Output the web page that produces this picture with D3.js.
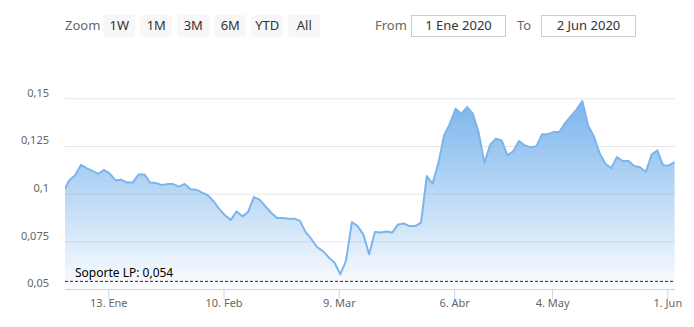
<!DOCTYPE html>
<html><head><meta charset="utf-8">
<script src="https://cdn.jsdelivr.net/npm/d3@7"></script>
<style>
body{margin:0;background:#fff;}
svg{display:block;font-family:"Noto Sans",sans-serif;}
</style>
</head><body>
<svg id="chart" width="694" height="327"></svg>
<script>
// ---- data ----
const dates = [
"2019-12-31",
"2020-01-02","2020-01-03","2020-01-06","2020-01-07","2020-01-08","2020-01-09","2020-01-10","2020-01-13","2020-01-14","2020-01-15","2020-01-16","2020-01-17","2020-01-20","2020-01-21","2020-01-22","2020-01-23","2020-01-24","2020-01-27","2020-01-28","2020-01-29","2020-01-30","2020-01-31",
"2020-02-03","2020-02-04","2020-02-05","2020-02-06","2020-02-07","2020-02-10","2020-02-11","2020-02-12","2020-02-13","2020-02-14","2020-02-17","2020-02-18","2020-02-19","2020-02-20","2020-02-21","2020-02-24","2020-02-25","2020-02-26","2020-02-27","2020-02-28",
"2020-03-02","2020-03-03","2020-03-04","2020-03-05","2020-03-06","2020-03-09","2020-03-10","2020-03-11","2020-03-12","2020-03-13","2020-03-16","2020-03-17","2020-03-18","2020-03-19","2020-03-20","2020-03-23","2020-03-24","2020-03-25","2020-03-26","2020-03-27","2020-03-30","2020-03-31",
"2020-04-01","2020-04-02","2020-04-03","2020-04-06","2020-04-07","2020-04-08","2020-04-09","2020-04-14","2020-04-15","2020-04-16","2020-04-17","2020-04-20","2020-04-21","2020-04-22","2020-04-23","2020-04-24","2020-04-27","2020-04-28","2020-04-29","2020-04-30",
"2020-05-04","2020-05-05","2020-05-06","2020-05-07","2020-05-08","2020-05-11","2020-05-12","2020-05-13","2020-05-14","2020-05-15","2020-05-18","2020-05-19","2020-05-20","2020-05-21","2020-05-22","2020-05-25","2020-05-26","2020-05-27","2020-05-28","2020-05-29",
"2020-06-01","2020-06-02"
];
const values = [
0.1014,
0.1072,0.1096,0.1151,0.1133,0.1119,0.1104,0.1125,0.1105,0.1070,0.1073,0.1058,0.1059,0.1101,0.1101,0.1058,0.1056,0.1045,0.1050,0.1050,0.1037,0.1051,0.1023,
0.1021,0.1005,0.0992,0.0960,0.0919,0.0886,0.0862,0.0907,0.0881,0.0904,0.0982,0.0969,0.0933,0.0900,0.0872,0.0872,0.0869,0.0869,0.0857,0.0797,
0.0761,0.0719,0.0699,0.0665,0.0638,0.0577,0.0650,0.0851,0.0830,0.0785,0.0682,0.0799,0.0796,0.0802,0.0796,0.0838,0.0844,0.0830,0.0830,0.0848,0.1092,0.1052,
0.1159,0.1305,0.1367,0.1445,0.1419,0.1454,0.1419,0.1321,0.1162,0.1257,0.1288,0.1279,0.1201,0.1222,0.1276,0.1253,0.1244,0.1248,0.1312,0.1312,
0.1323,0.1323,0.1370,0.1407,0.1442,0.1485,0.1358,0.1300,0.1211,0.1157,0.1134,0.1192,0.1171,0.1171,0.1145,0.1138,0.1113,0.1204,0.1227,0.1148,
0.1148,0.1166
];
const xTickDates = ["2020-01-13","2020-02-10","2020-03-09","2020-04-06","2020-05-04","2020-06-01"];
const xTickLabels = ["13. Ene","10. Feb","9. Mar","6. Abr","4. May","1. Jun"];
const yTicks = [0.05,0.075,0.1,0.125,0.15];
const yTickLabels = ["0,05","0,075","0,1","0,125","0,15"];
const supportValue = 0.054;
const supportLabel = "Soporte LP: 0,054";
const zoomButtons = ["1W","1M","3M","6M","YTD","All"];
const rangeFrom = "1 Ene 2020", rangeTo = "2 Jun 2020";

// ---- layout ----
const plotL = 65, plotR = 675, plotB = 289;
const svg = d3.select("#chart");

const x = d3.scaleLinear().domain([-1, dates.length - 2]).range([63.7, 674.6]);
const y = d3.scaleLinear().domain([0.05, 0.15]).range([plotB, 98.3]);

const defs = svg.append("defs");
const grad = defs.append("linearGradient").attr("id","areaGrad")
  .attr("x1",0).attr("y1",0).attr("x2",0).attr("y2",1);
grad.append("stop").attr("offset",0).attr("stop-color","#7cb5ec").attr("stop-opacity",1);
grad.append("stop").attr("offset",1).attr("stop-color","#7cb5ec").attr("stop-opacity",0.03);
defs.append("clipPath").attr("id","plotClip").append("rect")
  .attr("x",plotL).attr("y",0).attr("width",plotR-plotL).attr("height",plotB);

// grid
const yAxis = d3.axisLeft(y).tickValues(yTicks).tickSize(-(plotR-plotL))
  .tickFormat((d,i)=>yTickLabels[i]).tickPadding(16);
const gy = svg.append("g").attr("transform",`translate(${plotL},0)`).call(yAxis);
gy.select(".domain").remove();
gy.selectAll(".tick line").attr("stroke","#e6e6e6");
gy.selectAll(".tick text").attr("fill","#666").style("font-size","11px")
  .attr("font-family","Noto Sans").attr("dy","-0.2em").attr("x",-16);

// area + line
const pts = values.map((v,i)=>({i:i-1, v}));
const area = d3.area().x(d=>x(d.i)).y0(plotB).y1(d=>y(d.v));
const line = d3.line().x(d=>x(d.i)).y(d=>y(d.v));
const gp = svg.append("g").attr("clip-path","url(#plotClip)");
gp.append("path").datum(pts).attr("d",area).attr("fill","url(#areaGrad)");
gp.append("path").datum(pts).attr("d",line).attr("fill","none")
  .attr("stroke","#7cb5ec").attr("stroke-width",2).attr("stroke-linejoin","round");

// x axis
const xTickIdx = xTickDates.map(d=>dates.indexOf(d) - 1 - 0.26);
const xAxis = d3.axisBottom(x).tickValues(xTickIdx).tickSize(10).tickPadding(0)
  .tickFormat((d,i)=>xTickLabels[i]);
const gx = svg.append("g").attr("transform",`translate(0,${plotB})`).call(xAxis);
gx.select(".domain").remove();
gx.selectAll(".tick line").attr("stroke","#ccd6eb");
gx.selectAll(".tick text").attr("fill","#666").style("font-size","11px").attr("font-family","Noto Sans");
svg.append("line").attr("x1",plotL).attr("x2",plotR).attr("y1",plotB+0.5).attr("y2",plotB+0.5)
  .attr("stroke","#ccd6eb");

// support line
svg.append("line").attr("x1",plotL).attr("x2",plotR)
  .attr("y1",y(supportValue)).attr("y2",y(supportValue))
  .attr("stroke","#8b0000").attr("stroke-width",1).attr("stroke-dasharray","3,2");
svg.append("text").attr("x",plotL+10).attr("y",y(supportValue)-4.5)
  .attr("fill","#000").style("font-size","12px").text(supportLabel);

// range selector
const rs = svg.append("g");
rs.append("text").attr("x",65).attr("y",30).attr("fill","#666").style("font-size","13px").text("Zoom");
const bx = [103.3,140.3,177.3,214.3,251.3,288.3];
zoomButtons.forEach((b,i)=>{
  rs.append("rect").attr("x",bx[i]).attr("y",15).attr("width",32).attr("height",22)
    .attr("rx",2).attr("fill","#f7f7f7");
  rs.append("text").attr("x",bx[i]+16).attr("y",30).attr("text-anchor","middle")
    .attr("fill","#333").style("font-size","13px").text(b);
});
rs.append("text").attr("x",375).attr("y",30).attr("fill","#666").style("font-size","13px").text("From");
rs.append("rect").attr("x",411.5).attr("y",15.5).attr("width",94).attr("height",21)
  .attr("fill","#fff").attr("stroke","#ccc");
rs.append("text").attr("x",458.5).attr("y",30).attr("text-anchor","middle")
  .attr("fill","#333").style("font-size","13px").text(rangeFrom);
rs.append("text").attr("x",517).attr("y",30).attr("fill","#666").style("font-size","13px").text("To");
rs.append("rect").attr("x",541.5).attr("y",15.5).attr("width",94).attr("height",21)
  .attr("fill","#fff").attr("stroke","#ccc");
rs.append("text").attr("x",588.5).attr("y",30).attr("text-anchor","middle")
  .attr("fill","#333").style("font-size","13px").text(rangeTo);
</script>
</body></html>
